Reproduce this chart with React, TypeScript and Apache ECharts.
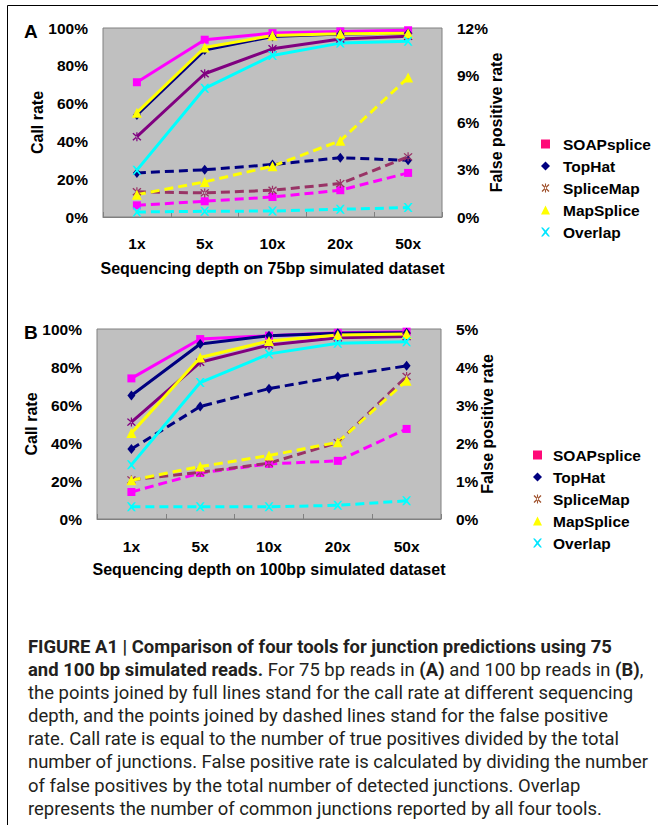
import React, { useEffect, useRef } from 'react';
import * as echarts from 'echarts';

// ---------------- data ----------------
const categories = ['1x', '5x', '10x', '20x', '50x'];
const toolNames = ['SOAPsplice', 'TopHat', 'SpliceMap', 'MapSplice', 'Overlap'];

// Panel A (75bp) call rate, %
const callA_SOAPsplice = [71.3, 93.8, 97.3, 98.2, 98.8];
const callA_TopHat = [54.0, 88.3, 95.5, 96.8, 97.2];
const callA_SpliceMap = [42.5, 75.8, 89.0, 94.2, 95.6];
const callA_MapSplice = [55.2, 89.7, 96.0, 97.0, 97.2];
const callA_Overlap = [24.8, 68.1, 85.5, 92.0, 93.0];

// Panel A false positive rate, %
const fpA_SOAPsplice = [0.74, 1.0, 1.27, 1.7, 2.8];
const fpA_TopHat = [2.8, 3.0, 3.33, 3.76, 3.6];
const fpA_SpliceMap = [1.6, 1.53, 1.7, 2.12, 3.82];
const fpA_MapSplice = [1.42, 2.23, 3.23, 4.84, 8.85];
const fpA_Overlap = [0.32, 0.36, 0.38, 0.49, 0.6];

// Panel B (100bp) call rate, %
const callB_SOAPsplice = [74.0, 94.7, 96.5, 98.0, 98.6];
const callB_TopHat = [65.0, 92.1, 96.5, 97.7, 98.0];
const callB_SpliceMap = [51.0, 82.5, 91.6, 95.4, 96.0];
const callB_MapSplice = [45.2, 85.0, 93.7, 96.8, 97.4];
const callB_Overlap = [28.5, 71.8, 86.9, 92.5, 93.3];

// Panel B false positive rate, %
const fpB_SOAPsplice = [0.71, 1.21, 1.45, 1.53, 2.37];
const fpB_TopHat = [1.84, 2.96, 3.43, 3.75, 4.03];
const fpB_SpliceMap = [1.03, 1.23, 1.47, 2.01, 3.75];
const fpB_MapSplice = [1.02, 1.38, 1.67, 2.02, 3.64];
const fpB_Overlap = [0.32, 0.32, 0.32, 0.36, 0.48];

const callRateTicksLeft = { min: 0, max: 100, interval: 20 };
const fpTicksA = { min: 0, max: 12, interval: 3 };
const fpTicksB = { min: 0, max: 5, interval: 1 };

const xNameA = 'Sequencing depth on 75bp simulated dataset';
const xNameB = 'Sequencing depth on 100bp simulated dataset';

const captionLines = [
  '{b|FIGURE A1 | Comparison of four tools for junction predictions using 75}',
  '{b|and 100 bp simulated reads.}{n| For 75 bp reads in }{b|(A)}{n| and 100 bp reads in }{b|(B)}{n|,}',
  '{n|the points joined by full lines stand for the call rate at different sequencing}',
  '{n|depth, and the points joined by dashed lines stand for the false positive}',
  '{n|rate. Call rate is equal to the number of true positives divided by the total}',
  '{n|number of junctions. False positive rate is calculated by dividing the number}',
  '{n|of false positives by the total number of detected junctions. Overlap}',
  '{n|represents the number of common junctions reported by all four tools.}',
];

// ---------------- styles ----------------
const FONT = '"Liberation Sans", Arial, Helvetica, sans-serif';
const CAPTION_FONT = '"Liberation Sans Narrow", "Roboto", "Liberation Sans", sans-serif';

const X_PATH =
  'path://M0,0 L2,0 L5,3.2 L8,0 L10,0 L6.2,5 L10,10 L8,10 L5,6.8 L2,10 L0,10 L3.8,5 Z';
const STAR_PATH =
  'path://M0.6,1.6 L1.6,0.6 L5,4 L8.4,0.6 L9.4,1.6 L6,5 L9.4,8.4 L8.4,9.4 L5,6 L1.6,9.4 L0.6,8.4 L4,5 Z M4.4,0 L4.4,10 L5.6,10 L5.6,0 Z';

const solidColors = ['#ff00ff', '#000080', '#800080', '#ffff00', '#00ffff'];
const dashColors = ['#ff00ff', '#000080', '#993366', '#ffff00', '#00ffff'];
const legendColors = ['#ff0a78', '#000080', '#a0522d', '#ffff00', '#00e5ff'];
const symbols = ['rect', 'diamond', STAR_PATH, 'triangle', X_PATH];
const symbolSizes: any[] = [8, [8, 10], 9, 10, 9];
const legendIcons = ['rect', 'diamond', STAR_PATH, 'triangle', X_PATH];

function buildSeries(panel: number, call: number[][], fp: number[][]) {
  const out: any[] = [];
  for (let i = 0; i < toolNames.length; i++) {
    out.push({
      type: 'line',
      name: toolNames[i],
      xAxisIndex: panel,
      yAxisIndex: panel * 2 + 1,
      data: fp[i],
      symbol: symbols[i],
      symbolSize: symbolSizes[i],
      showSymbol: true,
      lineStyle: { color: dashColors[i], width: 3, type: [9, 5] },
      itemStyle: { color: dashColors[i] },
      z: 2,
    });
  }
  for (let i = 0; i < toolNames.length; i++) {
    out.push({
      type: 'line',
      name: toolNames[i],
      xAxisIndex: panel,
      yAxisIndex: panel * 2,
      data: call[i],
      symbol: symbols[i],
      symbolSize: symbolSizes[i],
      showSymbol: true,
      lineStyle: { color: solidColors[i], width: 3, type: 'solid' },
      itemStyle: { color: solidColors[i] },
      z: 3,
    });
  }
  return out;
}

function xAxis(gridIndex: number, name: string, labelMargin: number, nameGap: number) {
  return {
    type: 'category',
    gridIndex,
    data: categories,
    boundaryGap: true,
    axisLine: { show: true, lineStyle: { color: '#808080', width: 1 } },
    axisTick: { show: true, inside: true, length: 5, lineStyle: { color: '#808080' } },
    axisLabel: { fontSize: 15.5, fontWeight: 'bold', color: '#000', fontFamily: FONT, margin: labelMargin },
    splitLine: { show: false },
    name,
    nameLocation: 'middle',
    nameGap,
    nameMoveOverlap: false,
    nameTextStyle: { fontSize: 16, fontWeight: 'bold', color: '#000', fontFamily: FONT },
  };
}

function yAxis(gridIndex: number, position: string, ticks: any, name: string, nameGap: number, nameSize: number) {
  return {
    type: 'value',
    gridIndex,
    position,
    min: ticks.min,
    max: ticks.max,
    interval: ticks.interval,
    axisLine: { show: false },
    axisTick: { show: false },
    splitLine: { show: false },
    axisLabel: {
      formatter: '{value}%',
      fontSize: 15.5,
      fontWeight: 'bold',
      color: '#000',
      fontFamily: FONT,
      margin: 15,
    },
    name,
    nameLocation: 'middle',
    nameRotate: 90,
    nameGap,
    nameMoveOverlap: false,
    nameTextStyle: { fontSize: nameSize, fontWeight: 'bold', color: '#000', fontFamily: FONT },
  };
}

function legend(left: number, top: number, textPad: number) {
  return {
    show: true,
    orient: 'vertical',
    left,
    top,
    itemWidth: 9,
    itemHeight: 9,
    itemGap: 6,
    selectedMode: true,
    data: toolNames.map((n, i) => ({
      name: n,
      icon: legendIcons[i],
      itemStyle: { color: legendColors[i], borderWidth: 0 },
    })),
    textStyle: {
      fontSize: 15.5,
      fontWeight: 'bold',
      color: '#000',
      fontFamily: FONT,
      padding: [0, 0, 0, textPad],
    },
  };
}

export default function App() {
  const ref = useRef<HTMLDivElement>(null);

  useEffect(() => {
    if (!ref.current) return;
    const chart = echarts.init(ref.current, null, { renderer: 'svg' });

    // compress caption font horizontally to match the condensed face of the reference
    let sx = 1;
    try {
      const ctx = document.createElement('canvas').getContext('2d');
      if (ctx) {
        ctx.font = `18px ${CAPTION_FONT}`;
        const w = ctx.measureText(
          'number of junctions. False positive rate is calculated by dividing the number'
        ).width;
        if (w > 0) sx = 620 / w;
      }
    } catch (e) {
      sx = 1;
    }

    const captionY = [647, 670, 693, 716, 739, 762, 786, 809];
    const richStyles = {
      b: { fontWeight: 'bold', fontSize: 18, fontFamily: CAPTION_FONT, fill: '#231f20' },
      n: { fontWeight: 'normal', fontSize: 18, fontFamily: CAPTION_FONT, fill: '#231f20' },
    };

    const graphics: any[] = [
      { type: 'line', shape: { x1: 7.5, y1: 5.5, x2: 658, y2: 5.5 }, style: { stroke: '#000', lineWidth: 1 } },
      { type: 'line', shape: { x1: 7.5, y1: 5.5, x2: 7.5, y2: 825 }, style: { stroke: '#000', lineWidth: 1 } },
      {
        type: 'text',
        x: 24,
        y: 31,
        style: { text: 'A', fontSize: 19, fontWeight: 'bold', fontFamily: FONT, fill: '#000', verticalAlign: 'middle' },
      },
      {
        type: 'text',
        x: 24,
        y: 332,
        style: { text: 'B', fontSize: 19, fontWeight: 'bold', fontFamily: FONT, fill: '#000', verticalAlign: 'middle' },
      },
      ...captionLines.map((t, i) => ({
        type: 'text',
        x: 28,
        y: captionY[i],
        scaleX: sx,
        style: {
          text: t,
          rich: richStyles,
          fontSize: 18,
          fontFamily: CAPTION_FONT,
          verticalAlign: 'middle',
          fill: '#231f20',
        },
      })),
    ];

    const option: any = {
      animation: false,
      backgroundColor: '#ffffff',
      textStyle: { fontFamily: FONT },
      grid: [
        { left: 103, top: 28, width: 339, height: 189, show: true, backgroundColor: '#c0c0c0', borderColor: '#808080', borderWidth: 1 },
        { left: 97, top: 329, width: 344, height: 190, show: true, backgroundColor: '#c0c0c0', borderColor: '#808080', borderWidth: 1 },
      ],
      xAxis: [xAxis(0, xNameA, 18, 43), xAxis(1, xNameB, 19, 42)],
      yAxis: [
        yAxis(0, 'left', callRateTicksLeft, 'Call rate', 58, 16),
        yAxis(0, 'right', fpTicksA, 'False positive rate', 46, 16),
        yAxis(1, 'left', callRateTicksLeft, 'Call rate', 58, 16),
        yAxis(1, 'right', fpTicksB, 'False positive rate', 38, 16),
      ],
      legend: [legend(536, 131, 8), legend(528, 442, 6)],
      series: [
        ...buildSeries(
          0,
          [callA_SOAPsplice, callA_TopHat, callA_SpliceMap, callA_MapSplice, callA_Overlap],
          [fpA_SOAPsplice, fpA_TopHat, fpA_SpliceMap, fpA_MapSplice, fpA_Overlap]
        ),
        ...buildSeries(
          1,
          [callB_SOAPsplice, callB_TopHat, callB_SpliceMap, callB_MapSplice, callB_Overlap],
          [fpB_SOAPsplice, fpB_TopHat, fpB_SpliceMap, fpB_MapSplice, fpB_Overlap]
        ),
      ],
      graphic: graphics,
    };

    chart.setOption(option);
    return () => chart.dispose();
  }, []);

  return (
    <div
      ref={ref}
      style={{ position: 'absolute', left: 0, top: 0, width: 658, height: 825, background: '#fff' }}
    />
  );
}
